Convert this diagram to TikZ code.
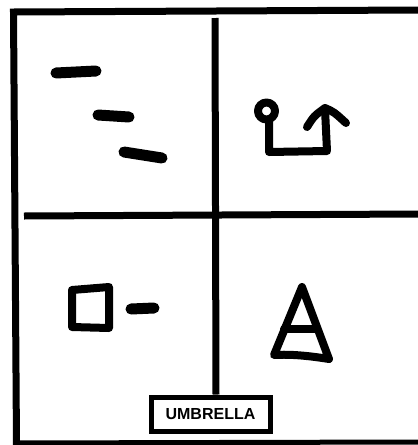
\documentclass[tikz,border=0pt]{standalone}
\usepackage{fontspec}
\setsansfont{Liberation Sans}
\begin{document}
\begin{tikzpicture}[x=1pt,y=-1pt,
  frame/.style={line width=7pt},
  pen/.style={line width=8pt,line cap=round,line join=round},
  thick pen/.style={line width=11pt,line cap=round},
  labelbox/.style={draw,line width=5pt,minimum width=119pt,minimum height=34pt,inner sep=0pt,
    font=\sffamily\bfseries\fontsize{16}{16}\selectfont}]
\useasboundingbox (0,0) rectangle (418,445);
% outer frame
\draw[frame] (418,10) -- (13.5,12) -- (16.5,445);
\draw[line width=5pt] (16,443) -- (418,442);
% dividers
\coordinate (vtop) at (215,18);
\node[labelbox] (lab) at (210.5,414) {UMBRELLA};
\draw[frame] (vtop) -- (lab.north -| 216,0);
\draw[frame] (24,216) -- (418,214);
% top-left dashes
\draw[thick pen] (56,73) -- (96,71);
\draw[thick pen] (98,115) -- (129,117);
\draw[thick pen] (124,152) -- (162,158);
% top-right icon
\draw[pen] (266.5,111) circle (8.5);
\draw[pen] (269,120) -- (269,152) -- (327,151) -- (325,109);
\draw[pen] (307,127) .. controls (314,116) .. (325,108) .. controls (334,112) .. (346,123);
% bottom-left square and dash
\draw[pen] (72,290) -- (109,287) -- (109,328) -- (72,327) -- cycle;
\draw[thick pen] (131,309) -- (154,308);
% bottom-right triangle
\draw[pen] (302,287) -- (274,355) .. controls (292,354) and (310,356) .. (329,359) -- cycle;
\draw[pen] (284,329) -- (315,329);
\end{tikzpicture}
\end{document}
